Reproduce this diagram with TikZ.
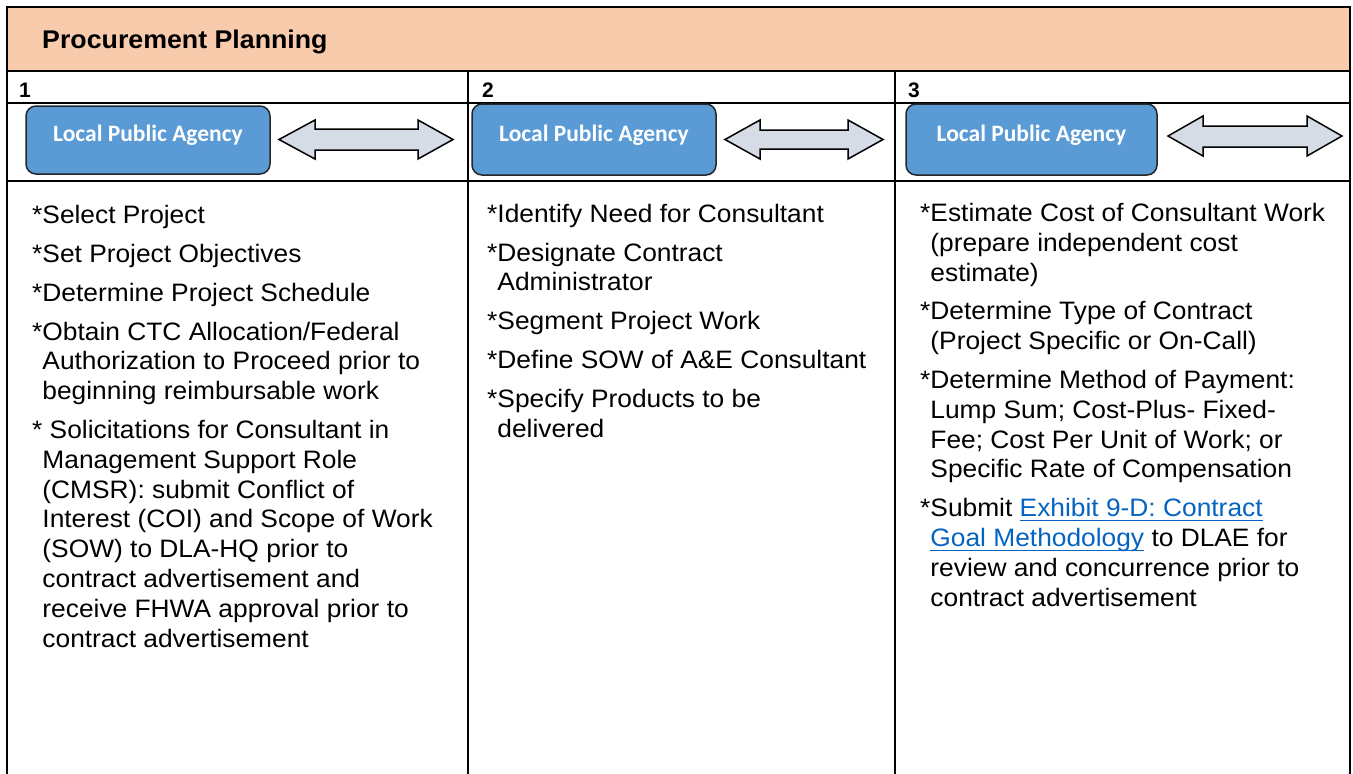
\documentclass[tikz,border=0pt]{standalone}
\usepackage{fontspec}
\setmainfont{Liberation Sans}
\newfontfamily\bodyfont[FakeStretch=1.045]{Liberation Sans}
\newfontfamily\carlito{Carlito}
\definecolor{hdrfill}{HTML}{F7CBAC}
\definecolor{lpafill}{HTML}{5B9BD5}
\definecolor{arrfill}{HTML}{D6DCE5}
\definecolor{linkblue}{HTML}{0563C1}
\newcommand\lnk[1]{\textcolor{linkblue}{\setbox0\hbox{#1}\rlap{\rule[-4.5pt]{\wd0}{1.4pt}}\box0}}
\newcommand\ind{\phantom{*}}
\tikzset{
  grid/.style={line width=2pt, line cap=rect},
  lpa/.style={draw=black!85, line width=1.5pt, fill=lpafill, rounded corners=10pt,
    text=white, font=\carlito\bfseries\fontsize{23.5}{28}\selectfont,
    text height=15pt, text depth=12pt, inner sep=0pt},
  dblarr/.style={draw=black, line width=1.5pt, fill=arrfill, line join=miter},
  body/.style={font=\bodyfont\fontsize{25.2}{29.8}\selectfont, align=left, inner sep=0pt},
  colnum/.style={font=\bfseries\fontsize{21}{24}\selectfont, inner sep=0pt, anchor=base west},
}
\begin{document}
\begin{tikzpicture}[x=1pt,y=-1pt]
\useasboundingbox (0,0) rectangle (1353,774);
% header band
\fill[hdrfill] (7,7) rectangle (1350,71);
\node[font=\bodyfont\bfseries\fontsize{25.6}{30}\selectfont, inner sep=0pt, anchor=base west] (title) at (42,48) {Procurement Planning};
% grid
\draw[grid] (7,774) -- (7,7) -- (1350,7) -- (1350,774);
\draw[grid] (7,71) -- (1350,71);
\draw[grid] (7,103) -- (1350,103);
\draw[grid] (7,181) -- (1350,181);
\draw[grid] (468,71) -- (468,774);
\draw[grid] (895,71) -- (895,774);
% column numbers
\node[colnum] (n1) at (19,97) {1};
\node[colnum] (n2) at (482,97) {2};
\node[colnum] (n3) at (908,97) {3};
% agency boxes
\node[lpa, minimum width=244pt, minimum height=68pt] (a1) at (148,140) {Local Public Agency};
\node[lpa, minimum width=244pt, minimum height=71pt] (a2) at (594,139.5) {Local Public Agency};
\node[lpa, minimum width=251pt, minimum height=71pt] (a3) at (1031.5,139.5) {Local Public Agency};
% double arrows
\draw[dblarr] (279,139.5) -- (315,120) -- (315,129) -- (418,129) -- (418,120) -- (453,139.5)
  -- (418,159) -- (418,150) -- (315,150) -- (315,159) -- cycle;
\draw[dblarr] (725,139.5) -- (760,120) -- (760,130) -- (848,130) -- (848,120) -- (883,139.5)
  -- (848,159) -- (848,149) -- (760,149) -- (760,159) -- cycle;
\draw[dblarr] (1168,136) -- (1203,116) -- (1203,126) -- (1307,126) -- (1307,116) -- (1342,136)
  -- (1307,156) -- (1307,147) -- (1203,147) -- (1203,156) -- cycle;
% column texts (anchored at the baseline of their last line)
\node[body, anchor=base west] (t1) at (32,647) {%
*Select Project\\[9pt]
*Set Project Objectives\\[9pt]
*Determine Project Schedule\\[9pt]
*Obtain CTC Allocation/Federal\\
\ind Authorization to Proceed prior to\\
\ind beginning reimbursable work\\[9pt]
* Solicitations for Consultant in\\
\ind Management Support Role\\
\ind (CMSR): submit Conflict of\\
\ind Interest (COI) and Scope of Work\\
\ind (SOW) to DLA-HQ prior to\\
\ind contract advertisement and\\
\ind receive FHWA approval prior to\\
\ind contract advertisement};
\node[body, anchor=base west] (t2) at (487,437) {%
*Identify Need for Consultant\\[9pt]
*Designate Contract\\
\ind Administrator\\[9pt]
*Segment Project Work\\[9pt]
*Define SOW of A\&E Consultant\\[9pt]
*Specify Products to be\\
\ind delivered};
\node[body, anchor=base west] (t3) at (920,606) {%
*Estimate Cost of Consultant Work\\
\ind (prepare independent cost\\
\ind estimate)\\[9pt]
*Determine Type of Contract\\
\ind (Project Specific or On-Call)\\[9pt]
*Determine Method of Payment:\\
\ind Lump Sum; Cost-Plus- Fixed-\\
\ind Fee; Cost Per Unit of Work; or\\
\ind Specific Rate of Compensation\\[9pt]
*Submit \lnk{Exhibit 9-D: Contract}\\
\ind \lnk{Goal Methodology} to DLAE for\\
\ind review and concurrence prior to\\
\ind contract advertisement};
\end{tikzpicture}
\end{document}
